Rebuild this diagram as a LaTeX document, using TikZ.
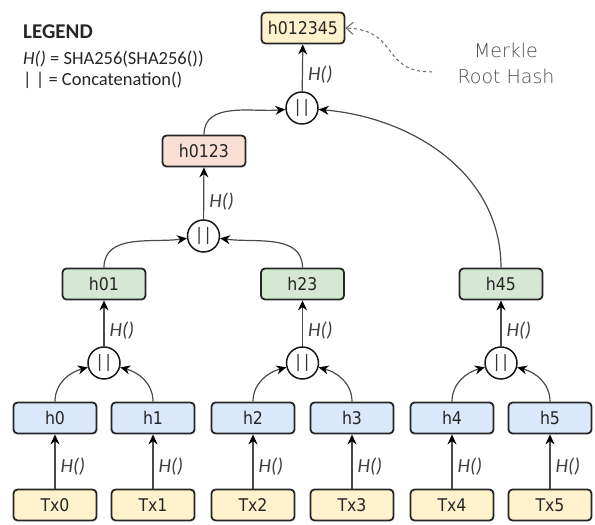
\documentclass[tikz,border=0pt]{standalone}
\usepackage{fontspec}
\setmainfont{Carlito}
\newfontfamily\nodefont{DejaVu Sans Condensed}
\newfontfamily\notefont{DejaVu Sans ExtraLight}
\usetikzlibrary{arrows.meta}
\definecolor{txfill}{HTML}{FFF2CC}
\definecolor{hfill}{HTML}{DAE8FC}
\definecolor{gfill}{HTML}{D5E8D4}
\definecolor{pfill}{HTML}{FAE0D4}
\definecolor{linecol}{HTML}{4A4A4A}
\newcommand{\cat}{|\hspace{3.5pt}|}
\tikzset{
  box/.style={draw=black!85, line width=1.8pt, rounded corners=4pt,
    minimum width=83pt, minimum height=31pt, inner sep=0pt,
    font=\nodefont\fontsize{17.5}{20}\selectfont, text=black!85},
  txbox/.style={box, fill=txfill},
  hbox/.style={box, fill=hfill},
  gbox/.style={box, fill=gfill},
  pbox/.style={box, fill=pfill},
  cc/.style={circle, draw=black!90, line width=1.5pt, minimum size=32pt,
    inner sep=0pt, fill=white, font=\nodefont\fontsize{17}{20}\selectfont, text=black!80},
  conn/.style={draw=linecol, line width=1.2pt,
    -{Stealth[length=10pt,width=9pt,color=black]}},
  lbl/.style={font=\fontsize{20}{22}\selectfont\itshape, text=black!75, inner sep=5pt},
  notearrow/.style={draw=black!60, line width=1pt, dash pattern=on 3pt off 3pt,
    -{Straight Barb[length=7pt,width=12pt,line width=1pt]}},
  legend/.style={anchor=base west, inner sep=0pt, text=black!85}
}
\begin{document}
\begin{tikzpicture}[x=1pt,y=1pt]
\useasboundingbox (0,0) rectangle (595,525);

% legend
\node[legend, font=\bfseries\fontsize{21}{24}\selectfont] (lg1) at (23,486) {LEGEND};
\node[legend, font=\fontsize{18.5}{22}\selectfont] (lg2) at (23,460) {\textit{H()} = SHA256(SHA256())};
\node[legend, font=\fontsize{18.5}{22}\selectfont] (lg3) at (23,439) {| | = Concatenation()};

% transactions
\node[txbox] (tx0) at (55,20) {Tx0};
\node[txbox] (tx1) at (153,20) {Tx1};
\node[txbox] (tx2) at (253,20) {Tx2};
\node[txbox] (tx3) at (352,20) {Tx3};
\node[txbox] (tx4) at (452,20) {Tx4};
\node[txbox] (tx5) at (550,20) {Tx5};

% leaf hashes
\node[hbox] (h0) at (55,107) {h0};
\node[hbox] (h1) at (153,107) {h1};
\node[hbox] (h2) at (253,107) {h2};
\node[hbox] (h3) at (352,107) {h3};
\node[hbox] (h4) at (452,107) {h4};
\node[hbox] (h5) at (550,107) {h5};

% concatenations level 1
\node[cc] (c01) at (104,162) {\cat};
\node[cc] (c23) at (302.5,162) {\cat};
\node[cc] (c45) at (501,162) {\cat};

% level 1 hashes
\node[gbox] (h01) at (104,241) {h01};
\node[gbox] (h23) at (302.5,241) {h23};
\node[gbox] (h45) at (501,241) {h45};

% level 2
\node[cc] (c0123) at (203.5,289) {\cat};
\node[pbox] (h0123) at (204,374) {h0123};

% top
\node[cc] (ctop) at (302,417) {\cat};
\node[txbox] (root) at (303,497) {h012345};

% note
\node[font=\notefont\fontsize{19}{26}\selectfont, text=black!70, align=center] (note) at (506,462) {Merkle\\Root Hash};
\coordinate (noteend) at (432,453);

% edges Tx -> h
\foreach \i in {0,...,5}{
  \draw[conn] (tx\i) -- node[lbl, right, pos=0.4] {H()} (h\i);
}

% h -> concat
\draw[conn] (h0.north) to[out=90,in=195] (c01);
\draw[conn] (h1.north) to[out=90,in=-15] (c01);
\draw[conn] (h2.north) to[out=90,in=195] (c23);
\draw[conn] (h3.north) to[out=90,in=-15] (c23);
\draw[conn] (h4.north) to[out=90,in=195] (c45);
\draw[conn] (h5.north) to[out=90,in=-15] (c45);

% concat -> level1
\draw[conn] (c01) -- node[lbl, right, pos=0.35] {H()} (h01);
\draw[conn] (c23) -- node[lbl, right, pos=0.35] {H()} (h23);
\draw[conn] (c45) -- node[lbl, right, pos=0.35] {H()} (h45);

% level1 -> concat
\draw[conn] (h01.north) to[out=90,in=188] (c0123);
\draw[conn] (h23.north) to[out=90,in=-8] (c0123);
\draw[conn] (c0123) -- node[lbl, right, pos=0.35] {H()} (h0123);

% top
\draw[conn] (h0123.north) to[out=90,in=185] (ctop);
\draw[conn] (h45.north) to[out=90,in=-5] (ctop);
\draw[conn] (ctop) -- node[lbl, right, pos=0.35] {H()} (root);

% note arrow
\draw[notearrow] (noteend) .. controls (380,453) and (400,495) .. (root.east);
\end{tikzpicture}
\end{document}
